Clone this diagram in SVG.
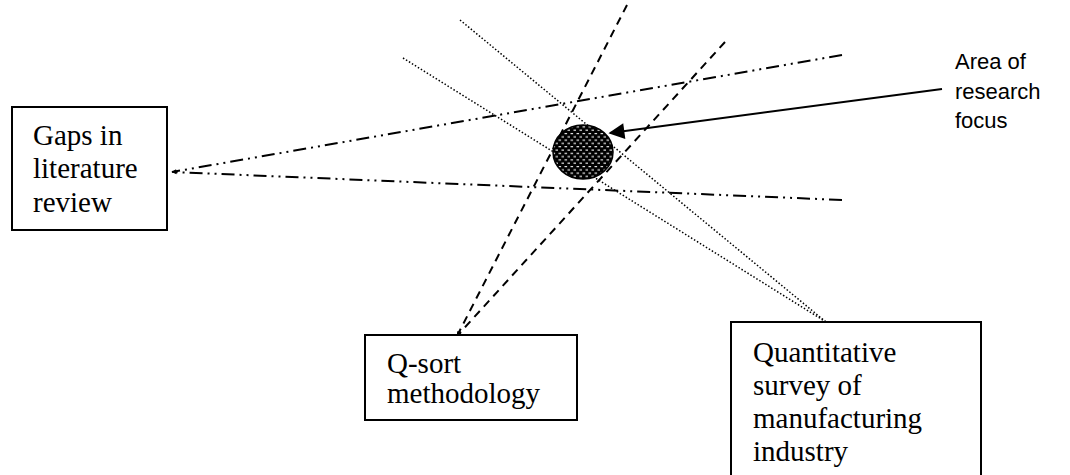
<svg xmlns="http://www.w3.org/2000/svg" width="1070" height="475" viewBox="0 0 1070 475">
  <defs>
    <style>
      .box { fill: #fff; stroke: #000; stroke-width: 2; }
      .serif { font-family: "Liberation Serif", "Times New Roman", serif; font-size: 29px; fill: #000; }
      .sans { font-family: "Liberation Sans", Arial, sans-serif; font-size: 22px; fill: #000; }
      .dashdot { fill: none; stroke: #000; stroke-width: 2; stroke-dasharray: 13 5 2 5 2 5; }
      .dashed { fill: none; stroke: #000; stroke-width: 2; stroke-dasharray: 8 6; }
      .dotted { fill: none; stroke: #000; stroke-width: 1.5; stroke-dasharray: 1.5 2; }
      .solid { fill: none; stroke: #000; stroke-width: 2; }
    </style>
    <!-- black fill with staggered white dashes -->
    <pattern id="hatch" width="6" height="6.6" patternUnits="userSpaceOnUse">
      <rect width="6" height="6.6" fill="#000"/>
      <rect x="0.5" y="1" width="2.6" height="1.1" fill="#fff"/>
      <rect x="3.5" y="4.3" width="2.6" height="1.1" fill="#fff"/>
    </pattern>
    <marker id="tip" viewBox="0 0 10 10" refX="9" refY="5" markerWidth="6" markerHeight="5" orient="auto" markerUnits="userSpaceOnUse">
      <path d="M0,1 L10,5 L0,9 z" fill="#000"/>
    </marker>
    <marker id="head" viewBox="0 0 10 10" refX="9" refY="5" markerWidth="22" markerHeight="16" orient="auto" markerUnits="userSpaceOnUse">
      <path d="M0,0 L10,5 L0,10 z" fill="#000"/>
    </marker>
  </defs>

  <!-- connectors -->
  <g id="connectors">
    <!-- literature gaps -->
    <path class="dashdot" d="M842,55 L172,172" marker-end="url(#tip)"/>
    <path class="dashdot" d="M842,200 L172,172" marker-end="url(#tip)"/>
    <!-- Q-sort -->
    <path class="dashed" d="M627,5 L457,336" marker-end="url(#tip)"/>
    <path class="dashed" d="M725,42 L457,336" marker-end="url(#tip)"/>
    <!-- survey -->
    <path class="dotted" d="M460,20 L826,322"/>
    <path class="dotted" d="M403,58 L826,322"/>
  </g>

  <g id="focus-area">
    <ellipse cx="583" cy="152" rx="30" ry="27" fill="url(#hatch)" stroke="#000" stroke-width="1.5"/>
  </g>

  <g id="focus-label">
    <path class="solid" d="M942,89 L610,133" marker-end="url(#head)"/>
    <text class="sans" x="955" y="69">Area of</text>
    <text class="sans" x="955" y="99">research</text>
    <text class="sans" x="955" y="128">focus</text>
  </g>

  <g id="node-gaps">
    <rect class="box" x="12" y="107" width="155" height="123"/>
    <text class="serif" x="33" y="145">Gaps in</text>
    <text class="serif" x="33" y="178">literature</text>
    <text class="serif" x="33" y="212">review</text>
  </g>

  <g id="node-qsort">
    <rect class="box" x="365" y="335" width="212" height="85"/>
    <text class="serif" x="387" y="373">Q-sort</text>
    <text class="serif" x="387" y="403">methodology</text>
  </g>

  <g id="node-survey">
    <rect class="box" x="731" y="322" width="250" height="160"/>
    <text class="serif" x="753" y="362">Quantitative</text>
    <text class="serif" x="753" y="395">survey of</text>
    <text class="serif" x="753" y="428">manufacturing</text>
    <text class="serif" x="753" y="461">industry</text>
  </g>
</svg>
